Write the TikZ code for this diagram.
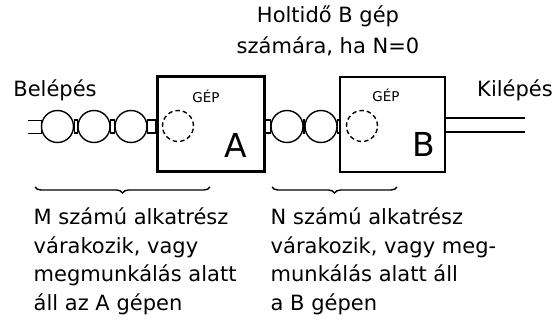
\documentclass[tikz,border=0pt]{standalone}
\usepackage{fontspec}
\setmainfont{DejaVu Sans}
\usepackage{tikz}
\usetikzlibrary{positioning,decorations.pathreplacing,backgrounds}

\tikzset{
  gep/.style={draw, minimum width=107pt, minimum height=95pt, inner sep=0pt},
  darab/.style={circle, draw, fill=white, minimum size=32pt, inner sep=0pt},
  ures/.style={circle, draw, dashed, dash pattern=on 4.5pt off 3pt, minimum size=31pt, inner sep=0pt},
  felirat/.style={font=\fontsize{21}{28.5}\selectfont, inner sep=0pt},
  kisfel/.style={font=\fontsize{13.5}{14}\selectfont, inner sep=0pt, anchor=base},
  nagybetu/.style={font=\fontsize{33}{33}\selectfont, inner sep=0pt, anchor=base},
  kapcsos/.style={decorate, decoration={brace, mirror, amplitude=6pt}},
}

\begin{document}
\begin{tikzpicture}[x=1pt, y=-1pt, line width=1.4pt]
  \useasboundingbox (0,0) rectangle (554,320);
  % Gepek
  \node[gep, line width=3pt] (gepA) at (210.5,124.5) {};
  \node[gep, minimum width=105pt] (gepB) at (392.5,124.5) {};
  \node[ures] (uresA) at (178,126) {};
  \node[ures] (uresB) at (362,126) {};
  \node[kisfel] (gepAfel) at (206,103) {GÉP};
  \node[kisfel] (gepBfel) at (386,102) {GÉP};
  \node[nagybetu] (betuA) at (236,158) {A};
  \node[nagybetu] (betuB) at (424,157) {B};
  % Alkatreszek a szalagon
  \node[darab] (c1) at (57.5,126.5) {};
  \node[darab] (c2) at (94,126.5) {};
  \node[darab] (c3) at (131,126.5) {};
  \node[darab] (c4) at (287,126.5) {};
  \node[darab] (c5) at (321,126.5) {};
  % Szalag
  \coordinate (szfent) at (0,120);
  \coordinate (szlent) at (0,133);
  \coordinate (be1) at (28,120);
  \coordinate (be2) at (28,133);
  \coordinate (ki1) at (525,118);
  \coordinate (ki2) at (525,132);
  \begin{scope}[on background layer]
    \draw (be1) -- (c1.west |- szfent) -- (c1.west |- szlent) -- (be2);
  \end{scope}
  \draw (c1.east |- szfent) rectangle (c2.west |- szlent);
  \draw (c2.east |- szfent) rectangle (c3.west |- szlent);
  \draw (c3.east |- szfent) rectangle (gepA.west |- szlent);
  \draw (gepA.east |- szfent) rectangle (c4.west |- szlent);
  \draw (c4.east |- szfent) rectangle (c5.west |- szlent);
  \draw (c5.east |- szfent) rectangle (gepB.west |- szlent);
  \draw (gepB.east |- ki1) -- (ki1);
  \draw (gepB.east |- ki2) -- (ki2);
  % Feliratok
  \node[felirat, anchor=base] (belep) at (55,97) {Belépés};
  \node[felirat, anchor=base] (kilep) at (515,97) {Kilépés};
  \node[felirat, font=\fontsize{21}{31}\selectfont, align=center, anchor=base]
    (holtido) at (328,54) {Holtidő B gép\\számára, ha N=0};
  % Kapcsos zarojelek
  \coordinate (kM1) at (35,187);
  \coordinate (kM2) at (210,187);
  \coordinate (kN1) at (272,187);
  \coordinate (kN2) at (397,187);
  \draw[kapcsos] (kM1) -- (kM2);
  \draw[kapcsos] (kN1) -- (kN2);
  \node[felirat, align=left, anchor=base west] (szovegM) at (33,310)
    {M számú alkatrész\\várakozik, vagy\\megmunkálás alatt\\áll az A gépen};
  \node[felirat, align=left, anchor=base west] (szovegN) at (270,310)
    {N számú alkatrész\\várakozik, vagy meg-\\munkálás alatt áll\\a B gépen};
\end{tikzpicture}
\end{document}
